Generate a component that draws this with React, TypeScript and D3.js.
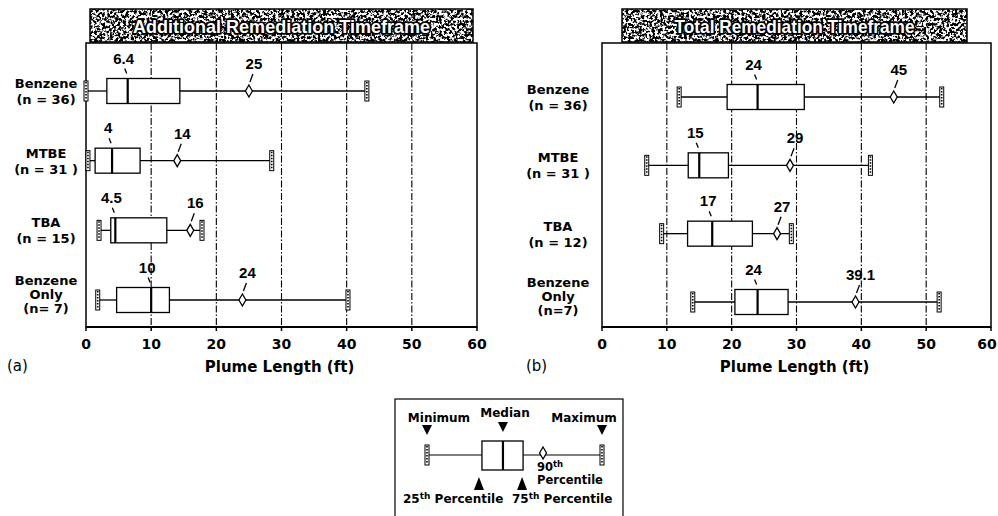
import React from "react";
import * as d3 from "d3";

// ---------- data ----------
const xTicks = [0, 10, 20, 30, 40, 50, 60];
const gridTicks = [10, 20, 30, 40, 50];

const leftLabels = [["Benzene", "(n = 36)"], ["MTBE", "(n = 31 )"], ["TBA", "(n = 15)"], ["Benzene", "Only", "(n= 7)"]];
const leftMin = [0, 0.3, 2, 1.8];
const leftQ1 = [3.2, 1.4, 3.8, 4.7];
const leftMedian = [6.4, 4, 4.5, 10];
const leftQ3 = [14.4, 8.3, 12.4, 12.8];
const leftP90 = [25, 14, 16, 24];
const leftMax = [43.1, 28.5, 17.8, 40.2];

const rightLabels = [["Benzene", "(n = 36)"], ["MTBE", "(n = 31 )"], ["TBA", "(n = 12)"], ["Benzene", "Only", "(n=7)"]];
const rightMin = [11.9, 6.9, 9.2, 14];
const rightQ1 = [19.3, 13.3, 13.2, 20.5];
const rightMedian = [24, 15, 17, 24];
const rightQ3 = [31.2, 19.5, 23.2, 28.7];
const rightP90 = [45, 29, 27, 39.1];
const rightMax = [52.4, 41.4, 29.2, 52];

// schematic legend stats (0..100 scale)
const legendStats = { min: 0, q1: 31.4, median: 43.4, q3: 54.9, p90: 66.3, max: 100 };

const LBL = "'DejaVu Sans', Verdana, sans-serif";
const NUM = "'Liberation Sans', Arial, sans-serif";

type PanelCfg = {
  title: string;
  tag: string;
  labels: string[][];
  min: number[]; q1: number[]; median: number[]; q3: number[]; p90: number[]; max: number[];
  x0: number; x1: number; top: number; bottom: number; rowTop: number; rowBottom: number;
  labelX: number; bannerX0: number; bannerX1: number; titleW: number; tagX: number;
};

function MinMaxMarker({ x, y }: { x: number; y: number }) {
  return (
    <g>
      <rect x={x - 2} y={y - 10} width={4} height={20} fill="#fff" stroke="#000" strokeWidth={1} />
      <line x1={x} x2={x} y1={y - 9} y2={y + 9} stroke="#000" strokeWidth={1.6} strokeDasharray="1.5,1.5" />
    </g>
  );
}

const diamond = d3.symbol().type(d3.symbolDiamond).size(42);

function Panel({ c }: { c: PanelCfg }) {
  const x = d3.scaleLinear().domain([0, 60]).range([c.x0, c.x1]);
  const cats = c.labels.map((l) => l.join(" "));
  const y = d3.scalePoint<string>().domain(cats).range([c.rowTop, c.rowBottom]);
  const bh = 25;
  const titleCx = (c.bannerX0 + c.bannerX1) / 2;
  return (
    <g>
      {/* banner */}
      <rect x={c.bannerX0} y={9} width={c.bannerX1 - c.bannerX0} height={33} fill="#fff" />
      <rect x={c.bannerX0} y={9} width={c.bannerX1 - c.bannerX0} height={33} fill="#000" filter="url(#grain)" />
      <rect x={c.bannerX0} y={9} width={c.bannerX1 - c.bannerX0} height={33} fill="none" stroke="#000" strokeWidth={1.5} />
      <text
        x={titleCx} y={33} textAnchor="middle" fontFamily={NUM} fontWeight="bold" fontSize={19}
        fill="#fff" stroke="#000" strokeWidth={3.5} paintOrder="stroke" strokeLinejoin="round"
        textLength={c.titleW} lengthAdjust="spacingAndGlyphs"
      >{c.title}</text>

      {/* frame */}
      <rect x={c.x0} y={c.top} width={c.x1 - c.x0} height={c.bottom - c.top} fill="#fff" stroke="#000" strokeWidth={1.5} />
      {gridTicks.map((t) => (
        <line key={t} x1={x(t)} x2={x(t)} y1={c.top} y2={c.bottom} stroke="#000" strokeWidth={1.1} strokeDasharray="7,2,1.5,2" />
      ))}
      {/* axis */}
      <line x1={c.x0} x2={c.x1} y1={c.bottom} y2={c.bottom} stroke="#000" strokeWidth={2} />
      {xTicks.map((t) => (
        <g key={t}>
          <line x1={x(t)} x2={x(t)} y1={c.bottom} y2={c.bottom + 4} stroke="#000" strokeWidth={1.5} />
          <text x={Math.min(x(t), 987)} y={c.bottom + 22} textAnchor="middle" fontFamily={LBL} fontWeight="bold" fontSize={14}>{t}</text>
        </g>
      ))}
      <text x={(c.x0 + c.x1) / 2 - 2} y={c.bottom + 45} textAnchor="middle" fontFamily={LBL} fontWeight="bold" fontSize={15}>Plume Length (ft)</text>
      <text x={c.tagX} y={c.bottom + 44} fontFamily={LBL} fontSize={15}>{c.tag}</text>

      {/* rows */}
      {cats.map((k, i) => {
        const cy = y(k) as number;
        const lines = c.labels[i];
        const start = lines.length === 3 ? -15 : -3;
        const step = lines.length === 3 ? 14 : 16;
        return (
          <g key={k}>
            {lines.map((ln, j) => (
              <text key={j} x={c.labelX} y={cy + start + j * step} textAnchor="middle" fontFamily={LBL} fontWeight="bold" fontSize={13}>{ln}</text>
            ))}
            <line x1={x(c.min[i])} x2={x(c.q1[i])} y1={cy} y2={cy} stroke="#000" strokeWidth={1.3} />
            <line x1={x(c.q3[i])} x2={x(c.max[i])} y1={cy} y2={cy} stroke="#000" strokeWidth={1.3} />
            <rect x={x(c.q1[i])} y={cy - bh / 2} width={x(c.q3[i]) - x(c.q1[i])} height={bh} fill="#fff" stroke="#000" strokeWidth={1.3} />
            <line x1={x(c.median[i])} x2={x(c.median[i])} y1={cy - bh / 2} y2={cy + bh / 2} stroke="#000" strokeWidth={2.2} />
            <MinMaxMarker x={x(c.min[i])} y={cy} />
            <MinMaxMarker x={x(c.max[i])} y={cy} />
            <path d={diamond() as string} transform={`translate(${x(c.p90[i])},${cy})`} fill="#fff" stroke="#000" strokeWidth={1.3} />
            {/* median label */}
            <text x={x(c.median[i]) - 4} y={cy - bh / 2 - 15} textAnchor="middle" fontFamily={NUM} fontWeight="bold" fontSize={15}>{c.median[i]}</text>
            <line x1={x(c.median[i]) - 3} x2={x(c.median[i]) - 1} y1={cy - bh / 2 - 10} y2={cy - bh / 2 - 5} stroke="#000" strokeWidth={1.3} />
            {/* p90 label */}
            <text x={x(c.p90[i]) + 5} y={cy - 22} textAnchor="middle" fontFamily={NUM} fontWeight="bold" fontSize={15}>{c.p90[i]}</text>
            <line x1={x(c.p90[i]) + 4} x2={x(c.p90[i]) + 1} y1={cy - 17} y2={cy - 9} stroke="#000" strokeWidth={1.3} />
          </g>
        );
      })}
    </g>
  );
}

function Legend() {
  const lx = d3.scaleLinear().domain([0, 100]).range([427, 602]);
  const cy = 455;
  const tri = (px: number, py: number, down: boolean) =>
    down ? `M${px - 5},${py} L${px + 5},${py} L${px},${py + 10} Z` : `M${px},${py} L${px + 5},${py + 13} L${px - 5},${py + 13} Z`;
  const s = legendStats;
  return (
    <g fontFamily={LBL} fontWeight="bold" fontSize={12}>
      <rect x={395} y={399} width={228} height={140} fill="#fff" stroke="#000" strokeWidth={1.2} />
      <text x={439} y={422} textAnchor="middle">Minimum</text>
      <text x={505} y={417} textAnchor="middle">Median</text>
      <text x={584} y={422} textAnchor="middle">Maximum</text>
      <path d={tri(lx(s.min), 425, true)} />
      <path d={tri(lx(s.median), 422, true)} />
      <path d={tri(lx(s.max), 425, true)} />
      <line x1={lx(s.min)} x2={lx(s.q1)} y1={cy} y2={cy} stroke="#000" strokeWidth={1.2} />
      <line x1={lx(s.q3)} x2={lx(s.max)} y1={cy} y2={cy} stroke="#000" strokeWidth={1.2} />
      <rect x={lx(s.q1)} y={cy - 14} width={lx(s.q3) - lx(s.q1)} height={29} fill="#fff" stroke="#000" strokeWidth={1.3} />
      <line x1={lx(s.median)} x2={lx(s.median)} y1={cy - 14} y2={cy + 15} stroke="#000" strokeWidth={2.2} />
      <MinMaxMarker x={lx(s.min)} y={cy} />
      <MinMaxMarker x={lx(s.max)} y={cy} />
      <path d={diamond() as string} transform={`translate(${lx(s.p90)},${cy - 2})`} fill="#fff" stroke="#000" strokeWidth={1.3} />
      <text x={537} y={471} fontSize={11.5}>90<tspan fontSize={8.5} dy={-4}>th</tspan></text>
      <text x={537} y={484} fontSize={11.5}>Percentile</text>
      <path d={tri(lx(s.q1) - 3, 477, false)} />
      <path d={tri(lx(s.q3) - 1, 477, false)} />
      <text x={403} y={503}>25<tspan fontSize={9} dy={-4}>th</tspan><tspan dy={4}> Percentile</tspan></text>
      <text x={512} y={503}>75<tspan fontSize={9} dy={-4}>th</tspan><tspan dy={4}> Percentile</tspan></text>
    </g>
  );
}

export default function App() {
  const left: PanelCfg = {
    title: "Additional Remediation Timeframe", tag: "(a)", labels: leftLabels,
    min: leftMin, q1: leftQ1, median: leftMedian, q3: leftQ3, p90: leftP90, max: leftMax,
    x0: 86, x1: 477, top: 43, bottom: 327, rowTop: 91, rowBottom: 300,
    labelX: 46, bannerX0: 90, bannerX1: 473, titleW: 297, tagX: 7,
  };
  const right: PanelCfg = {
    title: "Total Remediation Timeframe", tag: "(b)", labels: rightLabels,
    min: rightMin, q1: rightQ1, median: rightMedian, q3: rightQ3, p90: rightP90, max: rightMax,
    x0: 602, x1: 991, top: 43, bottom: 327, rowTop: 97, rowBottom: 302,
    labelX: 558, bannerX0: 622, bannerX1: 967, titleW: 240, tagX: 526,
  };
  return (
    <svg width={998} height={516} style={{ position: "absolute", left: 0, top: 0, background: "#fff" }}>
      <defs>
        <filter id="grain" x="0" y="0" width="1" height="1" filterUnits="objectBoundingBox" colorInterpolationFilters="sRGB">
          <feTurbulence type="fractalNoise" baseFrequency="0.38" numOctaves="3" seed="5" result="n" />
          <feColorMatrix in="n" type="matrix" values="0 0 0 0 0  0 0 0 0 0  0 0 0 0 0  -7 0 0 0 4" />
        </filter>
      </defs>
      <rect width={998} height={516} fill="#fff" />
      <Panel c={left} />
      <Panel c={right} />
      <Legend />
    </svg>
  );
}
